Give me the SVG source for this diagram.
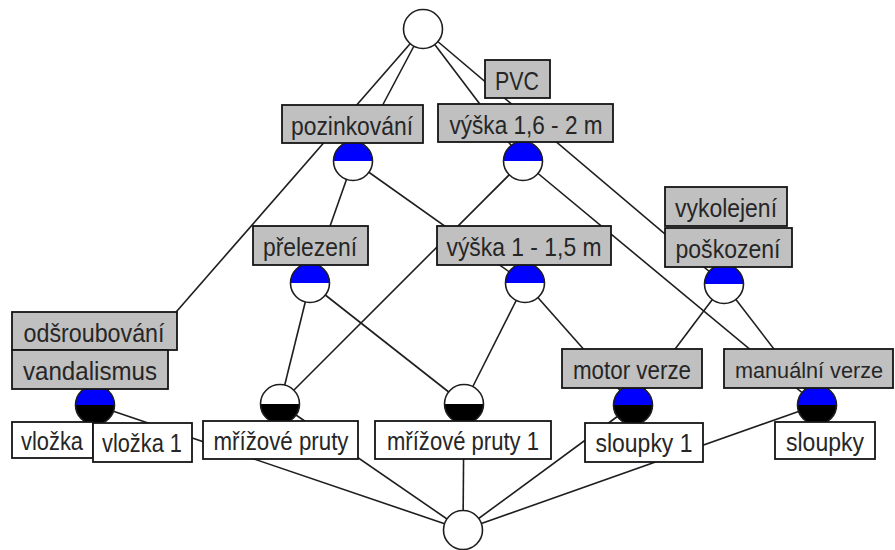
<svg xmlns="http://www.w3.org/2000/svg" xmlns:xlink="http://www.w3.org/1999/xlink" width="895" height="550" viewBox="0 0 895 550">
  <style>
    .edge { stroke: #1e1e1e; stroke-width: 1.6; fill: none; }
    .ring { fill: none; stroke: #1e1e1e; stroke-width: 1.6; }
    .blue { fill: #0000ff; }
    .white { fill: #ffffff; }
    .black { fill: #000000; }
    .attr { fill: #c0c0c0; stroke: #141414; stroke-width: 1.8; }
    .obj { fill: #ffffff; stroke: #141414; stroke-width: 1.8; }
    text { font-family: "Liberation Sans", Arial, sans-serif; font-size: 25px; fill: #262626; text-anchor: middle; }
    text.edge-side { font-size: 22px; }
  </style>
  <defs>
    <path id="upper" d="M-19.5,0A19.5,19.5 0 0 1 19.5,0Z"/>
    <path id="lower" d="M-19.5,0A19.5,19.5 0 0 0 19.5,0Z"/>
  </defs>
  <rect width="895" height="550" fill="#ffffff"/>

  <!-- lattice edges (center to center) -->
  <g id="edges" class="edge">
    <line x1="423" y1="29" x2="353" y2="161"/>
    <line x1="423" y1="29" x2="523" y2="161"/>
    <line x1="423" y1="29" x2="95" y2="405"/>
    <line x1="423" y1="29" x2="724" y2="284"/>
    <line x1="353" y1="161" x2="310" y2="283"/>
    <line x1="353" y1="161" x2="525" y2="283"/>
    <line x1="523" y1="161" x2="280" y2="404"/>
    <line x1="523" y1="161" x2="817" y2="405"/>
    <line x1="310" y1="283" x2="280" y2="404"/>
    <line x1="310" y1="283" x2="464" y2="404"/>
    <line x1="525" y1="283" x2="464" y2="404"/>
    <line x1="525" y1="283" x2="633" y2="405"/>
    <line x1="724" y1="284" x2="633" y2="405"/>
    <line x1="724" y1="284" x2="817" y2="405"/>
    <line x1="463" y1="530" x2="95" y2="405"/>
    <line x1="463" y1="530" x2="280" y2="404"/>
    <line x1="463" y1="530" x2="464" y2="404"/>
    <line x1="463" y1="530" x2="633" y2="405"/>
    <line x1="463" y1="530" x2="817" y2="405"/>
  </g>

  <!-- top concept -->
  <g id="n-top" transform="translate(423,29)">
    <circle r="19.5" class="white"/>
    <circle r="19.5" class="ring"/>
  </g>

  <g id="n-pozinkovani">
    <g transform="translate(353,161)">
      <use xlink:href="#upper" class="blue"/>
      <use xlink:href="#lower" class="white"/>
      <circle r="19.5" class="ring"/>
    </g>
    <rect class="attr" x="282" y="105" width="141" height="38"/>
    <text x="352" y="135" textLength="122" lengthAdjust="spacingAndGlyphs">pozinkování</text>
  </g>

  <g id="n-vyska16">
    <g transform="translate(523,161)">
      <use xlink:href="#upper" class="blue"/>
      <use xlink:href="#lower" class="white"/>
      <circle r="19.5" class="ring"/>
    </g>
    <rect class="attr" x="485" y="60" width="65" height="38"/>
    <text x="517" y="90" textLength="44" lengthAdjust="spacingAndGlyphs">PVC</text>
    <rect class="attr" x="438" y="104" width="175" height="38"/>
    <text x="526" y="134" textLength="153" lengthAdjust="spacingAndGlyphs">výška 1,6 - 2 m</text>
  </g>

  <g id="n-prelezeni">
    <g transform="translate(310,283)">
      <use xlink:href="#upper" class="blue"/>
      <use xlink:href="#lower" class="white"/>
      <circle r="19.5" class="ring"/>
    </g>
    <rect class="attr" x="253" y="226" width="115" height="39"/>
    <text x="310" y="256" textLength="94" lengthAdjust="spacingAndGlyphs">přelezení</text>
  </g>

  <g id="n-vyska1">
    <g transform="translate(525,283)">
      <use xlink:href="#upper" class="blue"/>
      <use xlink:href="#lower" class="white"/>
      <circle r="19.5" class="ring"/>
    </g>
    <rect class="attr" x="437" y="226" width="174" height="39"/>
    <text x="524" y="256" textLength="155" lengthAdjust="spacingAndGlyphs">výška 1 - 1,5 m</text>
  </g>

  <g id="n-poskozeni">
    <g transform="translate(724,284)">
      <use xlink:href="#upper" class="blue"/>
      <use xlink:href="#lower" class="white"/>
      <circle r="19.5" class="ring"/>
    </g>
    <rect class="attr" x="665" y="187" width="122" height="39"/>
    <text x="726" y="217" textLength="102" lengthAdjust="spacingAndGlyphs">vykolejení</text>
    <rect class="attr" x="665" y="228" width="127" height="39"/>
    <text x="728" y="258" textLength="105" lengthAdjust="spacingAndGlyphs">poškození</text>
  </g>

  <g id="n-vandalismus">
    <g transform="translate(95,405)">
      <use xlink:href="#upper" class="blue"/>
      <use xlink:href="#lower" class="black"/>
      <circle r="19.5" class="ring"/>
    </g>
    <rect class="attr" x="12" y="312" width="165" height="38"/>
    <text x="94" y="342" textLength="141" lengthAdjust="spacingAndGlyphs">odšroubování</text>
    <rect class="attr" x="12" y="350" width="156" height="39"/>
    <text x="90" y="380" textLength="134" lengthAdjust="spacingAndGlyphs">vandalismus</text>
    <rect class="obj" x="12" y="422" width="81" height="36"/>
    <text x="52" y="450" textLength="62" lengthAdjust="spacingAndGlyphs">vložka</text>
    <rect class="obj" x="93" y="423" width="99" height="39"/>
    <text x="142" y="452" textLength="80" lengthAdjust="spacingAndGlyphs">vložka 1</text>
  </g>

  <g id="n-mrizove">
    <g transform="translate(280,404)">
      <use xlink:href="#upper" class="white"/>
      <use xlink:href="#lower" class="black"/>
      <circle r="19.5" class="ring"/>
    </g>
    <rect class="obj" x="203" y="421" width="155" height="38"/>
    <text x="281" y="450" textLength="135" lengthAdjust="spacingAndGlyphs">mřížové pruty</text>
  </g>

  <g id="n-mrizove1">
    <g transform="translate(464,404)">
      <use xlink:href="#upper" class="white"/>
      <use xlink:href="#lower" class="black"/>
      <circle r="19.5" class="ring"/>
    </g>
    <rect class="obj" x="375" y="421" width="176" height="38"/>
    <text x="463" y="450" textLength="152" lengthAdjust="spacingAndGlyphs">mřížové pruty 1</text>
  </g>

  <g id="n-motor">
    <g transform="translate(633,405)">
      <use xlink:href="#upper" class="blue"/>
      <use xlink:href="#lower" class="black"/>
      <circle r="19.5" class="ring"/>
    </g>
    <rect class="attr" x="562" y="349" width="140" height="39"/>
    <text x="632" y="379" textLength="118" lengthAdjust="spacingAndGlyphs">motor verze</text>
    <rect class="obj" x="585" y="423" width="118" height="39"/>
    <text x="644" y="452" textLength="97" lengthAdjust="spacingAndGlyphs">sloupky 1</text>
  </g>

  <g id="n-manual">
    <g transform="translate(817,405)">
      <use xlink:href="#upper" class="blue"/>
      <use xlink:href="#lower" class="black"/>
      <circle r="19.5" class="ring"/>
    </g>
    <rect class="attr" x="724" y="349" width="169" height="39"/>
    <text class="edge-side" x="809" y="378" textLength="148" lengthAdjust="spacingAndGlyphs">manuální verze</text>
    <rect class="obj" x="775" y="422" width="100" height="37"/>
    <text x="825" y="451" textLength="78" lengthAdjust="spacingAndGlyphs">sloupky</text>
  </g>

  <!-- bottom concept -->
  <g id="n-bottom" transform="translate(463,530)">
    <circle r="19.5" class="white"/>
    <circle r="19.5" class="ring"/>
  </g>
</svg>
